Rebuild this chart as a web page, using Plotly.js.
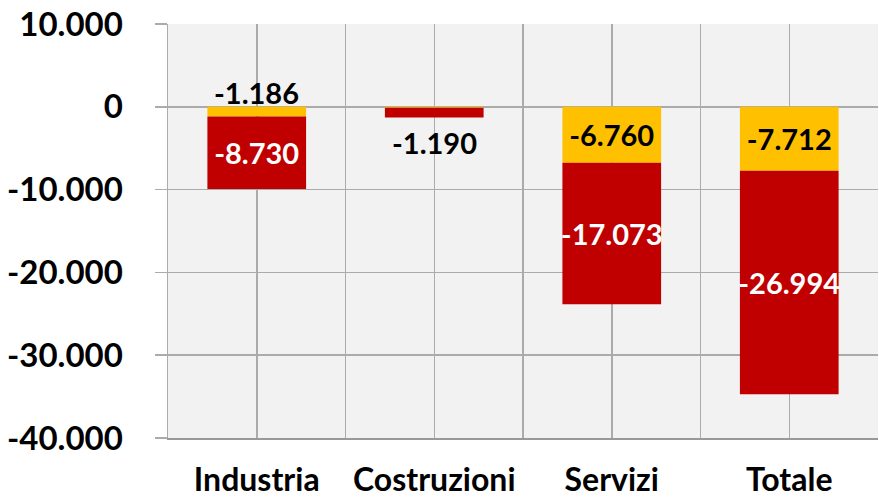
<!DOCTYPE html>
<html>
<head>
<meta charset="utf-8">
<script src="https://cdn.plot.ly/plotly-3.0.1.min.js"></script>
<style>html,body{margin:0;padding:0;background:#fff;}#chart{width:879px;height:501px;}</style>
</head>
<body>
<div id="chart"></div>
<script>
const categories = ["Industria", "Costruzioni", "Servizi", "Totale"];
const yellowValues = [-1186, -100, -6760, -7712];
const redValues = [-8730, -1190, -17073, -26994];
const yTickValues = [10000, 0, -10000, -20000, -30000, -40000];

function fmt(v) {
  const s = Math.abs(v).toString().replace(/\B(?=(\d{3})+(?!\d))/g, ".");
  return (v < 0 ? "-" : "") + s;
}

const FONT = "Lato, 'Open Sans', sans-serif";
const xIdx = categories.map((c, i) => i);

const yellow = {
  type: "bar", x: xIdx, y: yellowValues,
  marker: {color: "#FFC000"},
  text: yellowValues.map(fmt),
  textposition: ["none", "none", "inside", "inside"],
  insidetextanchor: "middle",
  textangle: 0,
  constraintext: "none",
  textfont: {family: FONT, size: 29, color: "#000000", weight: 700},
  hoverinfo: "skip", showlegend: false
};
const red = {
  type: "bar", x: xIdx, y: redValues,
  marker: {color: "#C00000"},
  text: redValues.map(fmt),
  textposition: ["inside", "none", "inside", "inside"],
  insidetextanchor: "middle",
  textangle: 0,
  constraintext: "none",
  textfont: {family: FONT, size: 29, color: "#FFFFFF", weight: 700},
  hoverinfo: "skip", showlegend: false
};

const gridColor = "#ABABAB";
const layout = {
  width: 879, height: 501,
  margin: {l: 168, r: 1, t: 24, b: 63},
  paper_bgcolor: "#FFFFFF",
  plot_bgcolor: "#F2F2F2",
  barmode: "relative",
  bargap: 0.444,
  showlegend: false,
  xaxis: {
    type: "linear", range: [-0.5, 3.5],
    tickvals: xIdx, ticktext: categories,
    showgrid: true, gridcolor: gridColor, gridwidth: 1.5,
    minor: {tickvals: [-0.5, 0.5, 1.5, 2.5, 3.5], showgrid: true, gridcolor: gridColor, gridwidth: 1.5},
    zeroline: false,
    showline: true, linecolor: "#999999", linewidth: 2,
    ticks: "", ticklabelstandoff: 13,
    tickfont: {family: FONT, size: 32, color: "#000000", weight: 700},
    fixedrange: true
  },
  yaxis: {
    range: [-40000, 10000],
    tickvals: yTickValues, ticktext: yTickValues.map(fmt),
    showgrid: true, gridcolor: gridColor, gridwidth: 1.5,
    zeroline: true, zerolinecolor: gridColor, zerolinewidth: 1.5,
    showline: true, linecolor: gridColor, linewidth: 1.5,
    ticks: "outside", ticklen: 12, tickcolor: gridColor, tickwidth: 1.5,
    ticklabelstandoff: 25,
    tickfont: {family: FONT, size: 33, color: "#000000", weight: 700},
    fixedrange: true
  },
  annotations: [
    {x: 0, y: 0, xref: "x", yref: "y", yanchor: "bottom", yshift: -5, showarrow: false,
     text: fmt(yellowValues[0]), font: {family: FONT, size: 29, color: "#000000", weight: 700}},
    {x: 1, y: yellowValues[1] + redValues[1], xref: "x", yref: "y", yanchor: "top", yshift: -6, showarrow: false,
     text: fmt(redValues[1]), font: {family: FONT, size: 29, color: "#000000", weight: 700}}
  ]
};

Plotly.newPlot("chart", [yellow, red], layout, {displayModeBar: false, staticPlot: true});
</script>
</body>
</html>
